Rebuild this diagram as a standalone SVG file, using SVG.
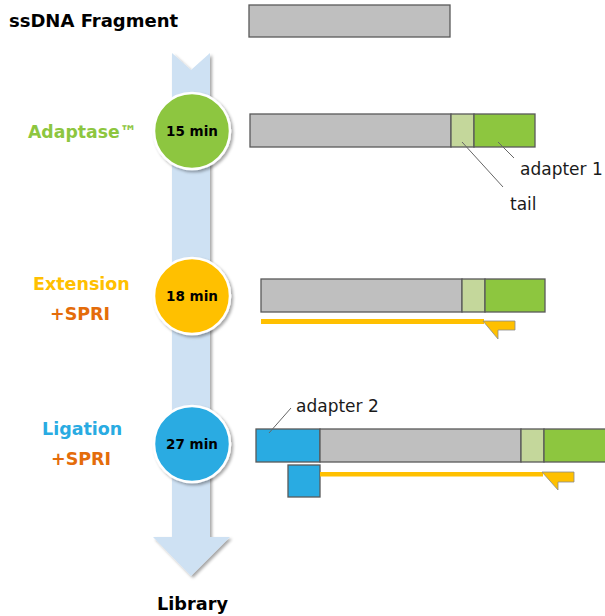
<svg xmlns="http://www.w3.org/2000/svg" width="605" height="616" viewBox="0 0 605 616">
<style>
.t{font-family:"DejaVu Sans",Verdana,sans-serif;font-weight:bold}
.n{font-family:"DejaVu Sans",Verdana,sans-serif;font-size:17px;fill:#1a1a1a}
.bar{stroke:#595959;stroke-width:1.3}
.g{fill:#bfbfbf}.tl{fill:#c4d79b}.ad{fill:#8dc63f}.bl{fill:#29abe2}
.pr{fill:#ffc000;stroke:#8c8c8c;stroke-width:0.8}
.lead{stroke:#666;stroke-width:1;fill:none}
.circ{stroke:#fff;stroke-width:2.5}
.ct{font-family:"DejaVu Sans",Verdana,sans-serif;font-weight:bold;font-size:13.5px;fill:#000;text-anchor:middle}
</style>
<defs>
<filter id="sh" x="-20%" y="-20%" width="150%" height="150%">
<feDropShadow dx="2" dy="2" stdDeviation="1.5" flood-color="#000" flood-opacity="0.35"/>
</filter>
</defs>
<rect width="605" height="616" fill="#fff"/>
<g id="flow-arrow">
<polygon points="172,53 191,70 210,53 210,537 230,537 191,576 153,537 172,537" fill="#cee1f3" filter="url(#sh)"/>
</g>
<g id="labels">
<text class="t" x="9" y="27" font-size="18" fill="#000">ssDNA Fragment</text>
<text class="t" x="28" y="138" font-size="17.3" fill="#8dc63f">Adaptase™</text>
<text class="t" x="33" y="290" font-size="17.5" fill="#ffc000">Extension</text>
<text class="t" x="50" y="320" font-size="17.5" fill="#e46c0a">+SPRI</text>
<text class="t" x="42" y="435" font-size="17.5" fill="#29abe2">Ligation</text>
<text class="t" x="51" y="465" font-size="17.5" fill="#e46c0a">+SPRI</text>
<text class="t" x="157" y="610" font-size="17.7" fill="#000">Library</text>
</g>
<g id="step-adaptase">
<circle class="circ" cx="192" cy="131" r="38" fill="#8dc63f" filter="url(#sh)"/>
<text class="ct" x="192" y="136">15 min</text>
</g>
<g id="step-extension">
<circle class="circ" cx="192" cy="296" r="38" fill="#ffc000" filter="url(#sh)"/>
<text class="ct" x="192" y="301">18 min</text>
</g>
<g id="step-ligation">
<circle class="circ" cx="192" cy="444" r="38" fill="#29abe2" filter="url(#sh)"/>
<text class="ct" x="192" y="449">27 min</text>
</g>
<g id="fragment">
<rect class="bar g" x="249" y="5" width="201" height="32"/>
</g>
<g id="row-adaptase">
<rect class="bar g" x="250" y="114" width="201" height="33"/>
<rect class="bar tl" x="451" y="114" width="23" height="33"/>
<rect class="bar ad" x="474" y="114" width="61" height="33"/>
<text class="n" x="520" y="175">adapter 1</text>
<text class="n" x="510" y="210">tail</text>
</g>
<g id="row-extension">
<rect class="bar g" x="261" y="279" width="201" height="33"/>
<rect class="bar tl" x="462" y="279" width="23" height="33"/>
<rect class="bar ad" x="485" y="279" width="60" height="33"/>
<rect x="261" y="319" width="223" height="5" fill="#ffc000"/>
<polygon class="pr" points="483,321 515,321 515,330 498,330 498,339"/>
</g>
<g id="row-ligation">
<rect class="bar bl" x="256" y="429" width="64" height="33"/>
<rect class="bar g" x="320" y="429" width="201" height="33"/>
<rect class="bar tl" x="521" y="429" width="23" height="33"/>
<rect class="bar ad" x="544" y="429" width="65" height="33"/>
<rect class="bar bl" x="288" y="465" width="32" height="32"/>
<rect x="320" y="472" width="223" height="4.5" fill="#ffc000"/>
<polygon class="pr" points="542,472 574,472 574,482 558,482 558,490"/>
<text class="n" x="296" y="412">adapter 2</text>
</g>
<g id="connectors">
<line class="lead" x1="498" y1="142" x2="514" y2="158"/>
<line class="lead" x1="462" y1="142" x2="503" y2="187"/>
<line class="lead" x1="269" y1="433" x2="291" y2="408"/>
</g>
</svg>
